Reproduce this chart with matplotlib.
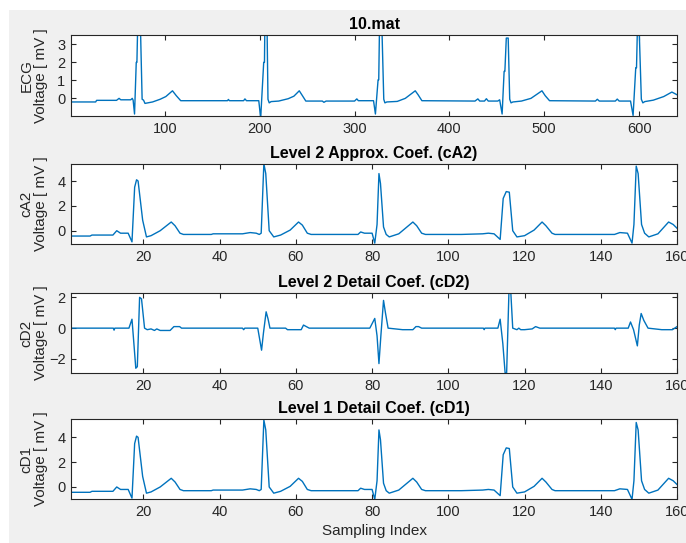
import numpy as np
import matplotlib
matplotlib.use("Agg")
import matplotlib.pyplot as plt
from matplotlib.patches import Rectangle

plt.rcParams['font.family'] = ['Liberation Sans', 'DejaVu Sans']

# ECG original (640 samples) - vertices
ecg_x = [1, 27, 28, 49, 51.7, 53.5, 64, 65.6, 66.5, 68, 69.8, 70.5, 71.5, 74, 75, 76, 77.5, 79, 87, 95, 101, 108, 112, 116.7,
         166, 167, 168, 183, 184.4, 186, 199, 201, 204.2, 205, 205.5, 207.6, 208.7, 210, 212, 220, 230, 236, 241.7, 245, 248.6,
         266, 267.7, 270, 300, 302.4, 304, 320, 322, 324.8, 325.5, 326.2, 329, 330.8, 332, 334, 345, 353.5, 364, 367, 371,
         427, 430, 432, 437, 439, 441, 451, 453, 455.6, 457.7, 458.5, 460, 462, 463.6, 465, 467, 476, 486, 497.6, 501, 505.6,
         554, 556, 558, 575, 577, 579, 591, 593.7, 596.5, 597.3, 598.3, 600, 602.4, 604, 606, 615, 626, 634.6, 640]
ecg_y = [-0.2, -0.2, -0.11, -0.11, 0.0, -0.08, -0.08, 0.0, -0.1, -0.87, 2.0, 2.0, 4.5, 4.5, 2.2, -0.05, -0.1, -0.28, -0.2, -0.05, 0.1, 0.42, 0.15, -0.13,
         -0.13, -0.06, -0.13, -0.13, -0.03, -0.13, -0.13, -1.1, 2.0, 2.0, 4.5, 4.5, -0.05, -0.25, -0.18, -0.15, -0.02, 0.12, 0.42, 0.15, -0.15,
         -0.15, -0.22, -0.15, -0.15, -0.03, -0.13, -0.13, -0.87, 1.03, 1.03, 3.6, 3.6, -0.05, -0.25, -0.2, -0.17, 0.0, 0.42, 0.2, -0.13,
         -0.15, -0.03, -0.15, -0.15, -0.02, -0.15, -0.15, -0.08, -0.87, 1.5, 1.5, 3.35, 3.35, -0.05, -0.25, -0.2, -0.15, 0.0, 0.42, 0.15, -0.13,
         -0.15, -0.05, -0.15, -0.15, -0.04, -0.15, -0.15, -0.95, 1.7, 1.7, 4.0, 4.0, -0.05, -0.25, -0.18, -0.1, 0.1, 0.35, 0.2]

# level 2 approximation coefficients (160 samples)
cA2_x = [1, 6, 6.5, 12, 13, 14, 16, 17, 17.7, 18.2, 18.6, 19.8, 20.8, 22, 24.4, 27.3, 28.3, 29.6, 30.5,
         37.8, 38.3, 46, 48, 49.6, 50.4, 50.9, 51.6, 52.1, 53, 54.2, 56, 58.5, 60.7, 61.7, 63, 64,
         76.3, 77, 78, 80, 80.7, 81.3, 81.8, 82.2, 83, 83.7, 84.5, 87, 90.7, 91.7, 93, 94,
         103.4, 109, 110.5, 112, 113.6, 114.4, 115.2, 116, 116.9, 118, 120, 122.5, 124.6, 125.6, 127.2, 128,
         143.6, 145, 147, 148.2, 148.7, 149.3, 149.8, 150.7, 151.5, 152.6, 155, 157.8, 159, 160]
cA2_y = [-0.43, -0.43, -0.35, -0.35, 0.0, -0.2, -0.2, -0.9, 3.5, 4.1, 4.0, 0.85, -0.5, -0.4, 0.0, 0.7, 0.4, -0.2, -0.3,
         -0.3, -0.25, -0.25, -0.15, -0.2, -0.3, -0.2, 5.4, 4.6, 0.0, -0.5, -0.35, 0.05, 0.7, 0.45, -0.2, -0.3,
         -0.3, -0.1, -0.2, -0.2, -1.0, 0.5, 4.6, 3.8, 0.3, -0.3, -0.5, -0.25, 0.7, 0.4, -0.2, -0.3,
         -0.3, -0.25, -0.2, -0.25, -0.7, 2.6, 3.15, 3.1, 0.0, -0.5, -0.4, 0.05, 0.7, 0.4, -0.2, -0.3,
         -0.3, -0.15, -0.2, -1.0, 0.5, 5.2, 4.6, 0.5, -0.2, -0.5, -0.25, 0.7, 0.5, 0.2]

# level 2 detail coefficients
cD2_x = [1, 12.1, 12.3, 12.5, 16.2, 17, 17.5, 18, 18.4, 19, 19.5, 20.3, 21, 22, 22.9, 23.5, 24.4, 27, 28, 29.5, 30,
         46, 46.3, 46.6, 50, 51, 51.5, 52.2, 52.7, 53.2, 57.3, 57.8, 61.4, 62, 63.5,
         79.4, 80.7, 81.3, 81.8, 82.3, 83, 83.5, 84.2, 88, 90.7, 91.5, 92.2, 93,
         109.2, 109.4, 109.6, 113, 113.6, 114.3, 114.9, 115.3, 115.9, 116.4, 116.9, 118, 118.5, 119, 120, 122, 122.9, 124,
         143.6, 143.8, 144, 147.2, 147.8, 148.6, 149.6, 150.1, 150.6, 151.3, 152.4, 156, 158.8, 160]
cD2_y = [0, 0, -0.13, 0, 0, 0.58, -1.0, -2.6, -2.5, 2.0, 1.9, 0.0, -0.1, -0.05, -0.15, -0.05, -0.15, -0.15, 0.1, 0.1, 0,
         0, -0.1, 0, 0, -1.43, -0.3, 1.06, 0.6, 0.0, 0, -0.1, -0.1, 0.2, 0,
         0, 0.63, -0.5, -2.3, -0.5, 1.8, 1.0, 0.0, -0.1, -0.1, 0.1, 0.1, 0,
         0, -0.1, 0, 0, 0.58, -1.0, -2.9, -2.9, 2.3, 2.3, 0.0, -0.1, 0.0, -0.1, -0.1, -0.05, 0.1, 0,
         0, -0.1, 0, 0, 0.4, -0.1, -1.15, 0.2, 0.95, 0.5, 0.0, -0.1, -0.1, 0.1]

# level 1 detail coef. in the figure is the same trace as cA2
cD1_x = list(cA2_x)
cD1_y = list(cA2_y)

titles = ['10.mat', 'Level 2 Approx. Coef. (cA2)', 'Level 2 Detail Coef. (cD2)', 'Level 1 Detail Coef. (cD1)']
names = ['ECG', 'cA2', 'cD2', 'cD1']
xlims = [(1, 640), (1, 160), (1, 160), (1, 160)]
ylims = [(-0.98, 3.52), (-1.07, 5.37), (-2.91, 2.28), (-0.97, 5.48)]
yticks = [[0, 1, 2, 3], [0, 2, 4], [-2, 0, 2], [0, 2, 4]]
xticks = [[100, 200, 300, 400, 500, 600], [20, 40, 60, 80, 100, 120, 140, 160]]

W, H = 686, 543
fig = plt.figure(figsize=(W / 100, H / 100), dpi=100, facecolor='white')
fig.patches.append(Rectangle((9 / W, 0), 1 - 9 / W, 1 - 10 / H, transform=fig.transFigure,
                             facecolor='#f0f0f0', edgecolor='none', zorder=-10))

# axes boxes in pixels (top, bottom)
boxes = [(35, 116), (164, 244), (293, 373), (419, 499)]
data = [(ecg_x, ecg_y), (cA2_x, cA2_y), (cD2_x, cD2_y), (cD1_x, cD1_y)]
txtc = '#262626'

for k in range(4):
    top, bot = boxes[k]
    ax = fig.add_axes([71 / W, (H - bot) / H, 606 / W, (bot - top) / H])
    ax.plot(data[k][0], data[k][1], color='#0072BD', lw=1.0)
    ax.set_xlim(xlims[k])
    ax.set_ylim(ylims[k])
    ax.set_yticks(yticks[k])
    ax.set_xticks(xticks[0] if k == 0 else xticks[1])
    ax.tick_params(direction='in', length=3.5, width=0.8, top=True, right=True,
                   labelsize=10.5, colors=txtc, pad=4)
    for s in ax.spines.values():
        s.set_color(txtc)
        s.set_linewidth(0.8)
    ax.set_title(titles[k], fontsize=11.5, fontweight='bold', color='black', pad=4)
    ax.set_ylabel(names[k] + '\nVoltage [ mV ]', fontsize=11, color=txtc, linespacing=1.05)
    ax.yaxis.set_label_coords(-0.038, 0.5)
    if k == 3:
        ax.set_xlabel('Sampling Index', fontsize=11, color=txtc, labelpad=4)

plt.savefig('out.png', dpi=100, facecolor=fig.get_facecolor())
